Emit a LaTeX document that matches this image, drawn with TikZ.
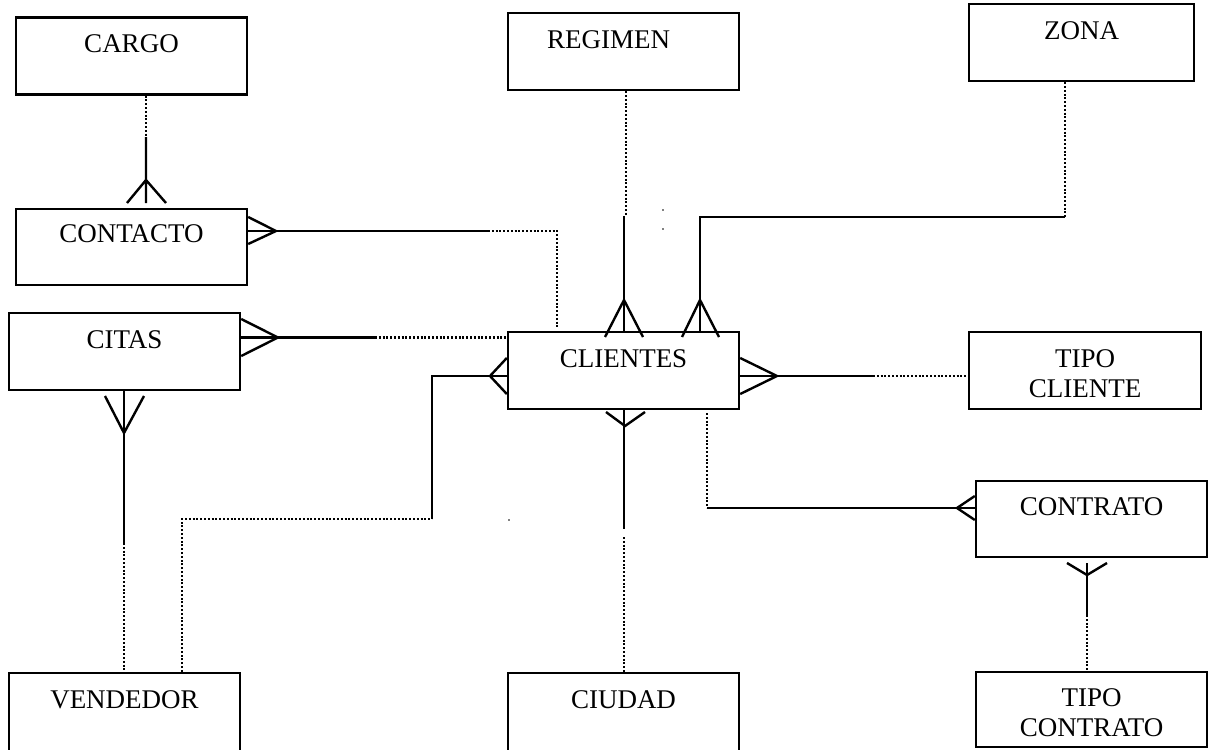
\documentclass[tikz,border=0pt]{standalone}
\usepackage{fontspec}
\setmainfont{Liberation Serif}
\usetikzlibrary{calc}
\begin{document}
\begin{tikzpicture}[x=1pt,y=-1pt,
  ent/.style={draw, line width=2.4pt, minimum width=231pt, minimum height=77pt, inner sep=0pt},
  ename/.style={anchor=base, font=\fontsize{27pt}{30pt}\selectfont, align=center, inner sep=0pt},
  link/.style={line width=2.4pt, line join=miter},
  dotlink/.style={line width=2.2pt, dash pattern=on 2pt off 1.8pt}]
\useasboundingbox (0,0) rectangle (1214,749);
\clip (0,0) rectangle (1214,749);

% entities
\node[ent] (cargo) at (131.5,56) {};
\node[ent, minimum height=76pt] (contacto) at (131.5,247) {};
\node[ent] (citas) at (124.5,351.5) {};
\node[ent, minimum height=100pt] (vendedor) at (124.5,723) {};
\node[ent] (regimen) at (623.5,51.5) {};
\node[ent, minimum width=225pt] (zona) at (1081.5,42.5) {};
\node[ent] (clientes) at (623.5,370.5) {};
\node[ent, minimum width=232pt] (tipocliente) at (1085,370.5) {};
\node[ent, minimum height=76pt] (contrato) at (1091.5,519) {};
\node[ent, minimum height=100pt] (ciudad) at (623.5,723) {};
\node[ent, minimum height=75pt] (tipocontrato) at (1091.5,709.5) {};

% entity names (two-line names sit on the baseline of their last line)
\node[ename] (lcargo) at ($(cargo.north)+(0,36)$) {CARGO};
\node[ename] (lcontacto) at ($(contacto.north)+(0,35)$) {CONTACTO};
\node[ename] (lcitas) at ($(citas.north)+(0,37)$) {CITAS};
\node[ename] (lvendedor) at ($(vendedor.north)+(0,37)$) {VENDEDOR};
\node[ename] (lregimen) at ($(regimen.north)+(-15,37)$) {REGIMEN};
\node[ename] (lzona) at ($(zona.north)+(0,37)$) {ZONA};
\node[ename] (lclientes) at ($(clientes.north)+(0,37)$) {CLIENTES};
\node[ename] (ltipocliente) at ($(tipocliente.north)+(0,67)$) {TIPO\\CLIENTE};
\node[ename] (lcontrato) at ($(contrato.north)+(0,36)$) {CONTRATO};
\node[ename] (lciudad) at ($(ciudad.north)+(0,37)$) {CIUDAD};
\node[ename] (ltipocontrato) at ($(tipocontrato.north)+(0,66)$) {TIPO\\CONTRATO};

% CARGO - CONTACTO
\coordinate (c1) at (146,137);
\draw[dotlink] (cargo.south -| c1) -- (c1);
\draw[link] (c1) -- (146,203) (127,203) -- (146,180) -- (166,203);

% CONTACTO - CLIENTES
\coordinate (c2) at (488,231);
\coordinate (c3) at (557,231);
\draw[link] (contacto.east |- c2) -- (c2);
\draw[dotlink] (c2) -- (c3) -- ($(c3 |- clientes.north)+(0,-4)$);
\draw[link] (contacto.east |- 0,217) -- (276,231) -- (contacto.east |- 0,244);

% CITAS - CLIENTES
\coordinate (c4) at (375,337.5);
\draw[link] (citas.east |- c4) -- (c4);
\draw[dotlink] (c4) -- (clientes.west |- c4);
\draw[link] (citas.east |- 0,319) -- (278,337.5) -- (citas.east |- 0,356);

% CITAS - VENDEDOR
\coordinate (c5) at (124,543);
\draw[link] (citas.south -| c5) -- (c5);
\draw[dotlink] (c5) -- (vendedor.north -| c5);
\draw[link] (105,396) -- (124,433) -- (144,396);

% VENDEDOR - CLIENTES
\coordinate (c6) at (182,519);
\coordinate (c7) at (432,519);
\coordinate (c8) at (432,376);
\draw[dotlink] (vendedor.north -| c6) -- (c6) -- (c7);
\draw[link] (c7) -- (c8) -- (clientes.west |- c8);
\draw[link] (clientes.west |- 0,358) -- (490,376) -- (clientes.west |- 0,394);

% REGIMEN - CLIENTES
\coordinate (c9) at (626,215);
\coordinate (c9b) at (624,216);
\draw[dotlink] (regimen.south -| c9) -- (c9);
\draw[link] (c9b) -- (clientes.north -| c9b);
\draw[link] (605,337) -- (624,300) -- (643,337);

% ZONA - CLIENTES
\coordinate (c10) at (1065,217);
\coordinate (c11) at (700,217);
\draw[dotlink] (zona.south -| c10) -- (c10);
\draw[link] (c10) -- (c11) -- (clientes.north -| c11);
\draw[link] (682,337) -- (700,300) -- (719,337);

% CLIENTES - TIPO CLIENTE
\coordinate (c12) at (873,376);
\draw[link] (clientes.east |- c12) -- (c12);
\draw[dotlink] (c12) -- (tipocliente.west |- c12);
\draw[link] (clientes.east |- 0,358) -- (777,376) -- (clientes.east |- 0,394);

% CLIENTES - CIUDAD
\coordinate (c13) at (624,529);
\coordinate (c14) at (624,537);
\draw[link] (clientes.south -| c13) -- (c13);
\draw[dotlink] (c14) -- (ciudad.north -| c14);
\draw[link] (606,412) -- (625,426) -- (645,412);

% CLIENTES - CONTRATO
\coordinate (c15) at (707,413);
\coordinate (c16) at (707,508);
\draw[dotlink] (c15) -- (c16);
\draw[link] (c16) -- (contrato.west |- c16);
\draw[link] (contrato.west |- 0,496) -- (957,508) -- (contrato.west |- 0,520);

% CONTRATO - TIPO CONTRATO
\coordinate (c17) at (1087,563);
\coordinate (c18) at (1087,615);
\draw[link] (c17) -- (c18);
\draw[dotlink] (c18) -- (tipocontrato.north -| c18);
\draw[link] (1067,563) -- (1087,575) -- (1107,563);

% stray specks
\fill (663,210) circle (0.9);
\fill (663,229) circle (0.9);
\fill (509,520) circle (0.9);
\end{tikzpicture}
\end{document}
